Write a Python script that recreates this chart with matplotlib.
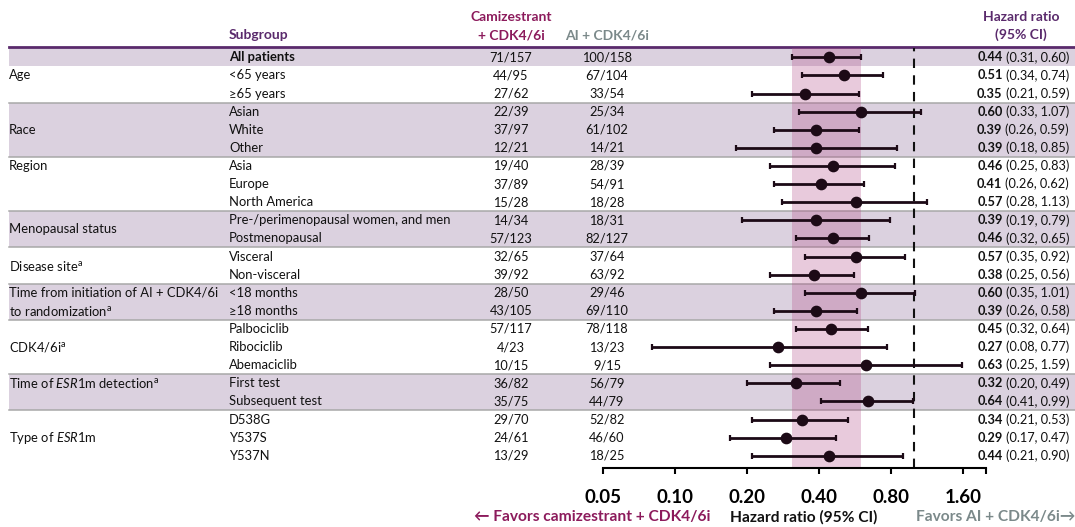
import matplotlib
matplotlib.use("Agg")
import matplotlib.pyplot as plt

plt.rcParams["font.family"] = ["Lato", "DejaVu Sans"]
plt.rcParams["mathtext.fontset"] = "custom"
plt.rcParams["mathtext.rm"] = "Lato"
plt.rcParams["mathtext.it"] = "Lato:italic"
plt.rcParams["mathtext.bf"] = "Lato:bold"

# ---- data -------------------------------------------------------------
subgroups = ["All patients", "<65 years", "≥65 years", "Asian", "White", "Other",
             "Asia", "Europe", "North America", "Pre-/perimenopausal women, and men",
             "Postmenopausal", "Visceral", "Non-visceral", "<18 months", "≥18 months",
             "Palbociclib", "Ribociclib", "Abemaciclib", "First test", "Subsequent test",
             "D538G", "Y537S", "Y537N"]
cami_events = ["71/157", "44/95", "27/62", "22/39", "37/97", "12/21", "19/40", "37/89",
               "15/28", "14/34", "57/123", "32/65", "39/92", "28/50", "43/105", "57/117",
               "4/23", "10/15", "36/82", "35/75", "29/70", "24/61", "13/29"]
ai_events = ["100/158", "67/104", "33/54", "25/34", "61/102", "14/21", "28/39", "54/91",
             "18/28", "18/31", "82/127", "37/64", "63/92", "29/46", "69/110", "78/118",
             "13/23", "9/15", "56/79", "44/79", "52/82", "46/60", "18/25"]
hr = [0.44, 0.51, 0.35, 0.60, 0.39, 0.39, 0.46, 0.41, 0.57, 0.39, 0.46, 0.57, 0.38,
      0.60, 0.39, 0.45, 0.27, 0.63, 0.32, 0.64, 0.34, 0.29, 0.44]
ci_low = [0.31, 0.34, 0.21, 0.33, 0.26, 0.18, 0.25, 0.26, 0.28, 0.19, 0.32, 0.35, 0.25,
          0.35, 0.26, 0.32, 0.08, 0.25, 0.20, 0.41, 0.21, 0.17, 0.21]
ci_high = [0.60, 0.74, 0.59, 1.07, 0.59, 0.85, 0.83, 0.62, 1.13, 0.79, 0.65, 0.92, 0.56,
           1.01, 0.58, 0.64, 0.77, 1.59, 0.49, 0.99, 0.53, 0.47, 0.90]

group_labels = ["", "Age", "Race", "Region", "Menopausal status", "Disease site$^{\\mathrm{a}}$",
                "Time from initiation of AI + CDK4/6i\nto randomization$^{\\mathrm{a}}$",
                "CDK4/6i$^{\\mathrm{a}}$", "Time of $\\mathit{ESR1}$m detection$^{\\mathrm{a}}$",
                "Type of $\\mathit{ESR1}$m"]
group_sizes = [1, 2, 3, 3, 2, 2, 2, 3, 2, 3]
group_shaded = [True, False, True, False, True, False, True, False, True, False]
# row offset (within each group) where its label sits
label_offsets = [0, 0, 1, 0, 0.5, 0.5, 0, 1, 0, 1]

tick_values = [0.05, 0.10, 0.20, 0.40, 0.80, 1.60, 2.0]
tick_labels = ["0.05", "0.10", "0.20", "0.40", "0.80", "1.60", ""]

# ---- styling ----------------------------------------------------------
PURPLE = "#5a2a6c"
MAROON = "#8c1b5c"
GREY_TXT = "#7b898a"
BAND = "#dbd1df"
SEP = "#a8a8a8"
PINK = "#b4508c"
INK = "#1c0a16"
TXT = "#111111"

W, H = 1075, 527
ROW0, STEP = 57.3, 18.11
fs_lab = 9.4    # labels
fs_num = 9.2    # event counts
fs_hr = 9.2     # hazard ratio column
fs_head = 10.0  # headers
fs_foot = 11.2  # footer


def row_of(py):
    return (py - ROW0) / STEP


fig = plt.figure(figsize=(W / 100, H / 100), dpi=100)

# table layer in pixel-x / row-y units
ax = fig.add_axes([0, 0, 1, 1])
ax.set_xlim(0, W)
ax.set_ylim(row_of(H), row_of(0))
ax.axis("off")

start = 0
for lab, n, shade, off in zip(group_labels, group_sizes, group_shaded, label_offsets):
    top, bot = start - 0.5, start + n - 0.5
    if shade:
        ax.fill_between([9, W], top, bot, color=BAND, lw=0, zorder=0)
    if start > 1:
        ax.plot([9, W], [top, top], color=SEP, lw=1.1, zorder=1)
    for k, line in enumerate(lab.split("\n")):
        ax.text(9, start + off + k, line, ha="left", va="center", fontsize=fs_lab, color=TXT)
    start += n

for i, (s, c, a) in enumerate(zip(subgroups, cami_events, ai_events)):
    ax.text(229, i, s, ha="left", va="center", fontsize=fs_lab, color=TXT,
            fontweight="bold" if i == 0 else "normal")
    ax.text(511, i, c, ha="center", va="center", fontsize=fs_num, color=TXT)
    ax.text(607, i, a, ha="center", va="center", fontsize=fs_num, color=TXT)

# header
ax.plot([9, W], [row_of(47.3)] * 2, color=PURPLE, lw=2.0, zorder=2)
hb = dict(fontsize=fs_head, fontweight="bold", va="center")
ax.text(229, row_of(35), "Subgroup", ha="left", color=PURPLE, **hb)
ax.text(511, row_of(17), "Camizestrant", ha="center", color=MAROON, **hb)
ax.text(511, row_of(35), "+ CDK4/6i", ha="center", color=MAROON, **hb)
ax.text(607, row_of(35), "AI + CDK4/6i", ha="center", color=GREY_TXT, **hb)
ax.text(1021, row_of(17), "Hazard ratio", ha="center", color=PURPLE, **hb)
ax.text(1021, row_of(35), "(95% CI)", ha="center", color=PURPLE, **hb)

# footer
fb = dict(fontsize=fs_foot, fontweight="bold", va="center")
ax.text(710, row_of(517), "← Favors camizestrant + CDK4/6i", ha="right", color=MAROON, **fb)
ax.text(804, row_of(517), "Hazard ratio (95% CI)", ha="center", color=TXT, **fb)
ax.text(1075, row_of(517), "Favors AI + CDK4/6i→", ha="right", color=GREY_TXT, **fb)

# forest plot axes (log scale)
x0, x1 = 603, 986
ytop, ybot = 48, 467.5
fax = fig.add_axes([x0 / W, (H - ybot) / H, (x1 - x0) / W, (ybot - ytop) / H])
fax.patch.set_visible(False)
fax.set_xscale("log")
fax.set_xlim(tick_values[0], tick_values[-1])
fax.set_ylim(row_of(ybot), row_of(ytop))
for sp in ["top", "left", "right"]:
    fax.spines[sp].set_visible(False)
fax.spines["bottom"].set_linewidth(1.5)
fax.set_yticks([])
fax.set_xticks(tick_values)
fax.set_xticklabels(tick_labels, fontsize=13.5, fontweight="bold")
fax.xaxis.set_minor_locator(matplotlib.ticker.NullLocator())
fax.tick_params(axis="x", direction="out", length=4.5, width=1.5, pad=11)

fax.axvspan(ci_low[0], ci_high[0], color=PINK, alpha=0.3, lw=0, zorder=1)
fax.axvline(1.0, color=TXT, lw=1.5, ls=(0, (4.5, 3.5)), zorder=2)

rows = list(range(len(hr)))
err = [[h - l for h, l in zip(hr, ci_low)], [u - h for h, u in zip(hr, ci_high)]]
fax.errorbar(hr, rows, xerr=err, fmt="o", color=INK, ecolor=INK, elinewidth=2.0,
             capsize=2.3, capthick=1.6, markersize=7.4, zorder=3)

# hazard ratio text column
fig.canvas.draw()
rend = fig.canvas.get_renderer()
inv = ax.transData.inverted()
for i, (h, l, u) in enumerate(zip(hr, ci_low, ci_high)):
    t = ax.text(1069, i, f"({l:.2f}, {u:.2f})", ha="right", va="center", fontsize=fs_hr,
                color=TXT)
    bb = t.get_window_extent(renderer=rend)
    left = inv.transform((bb.x0, 0))[0]
    ax.text(left - 3.0, i, f"{h:.2f}", ha="right", va="center", fontsize=fs_hr,
            fontweight="bold", color=TXT)

fig.savefig("out.png", dpi=100)
